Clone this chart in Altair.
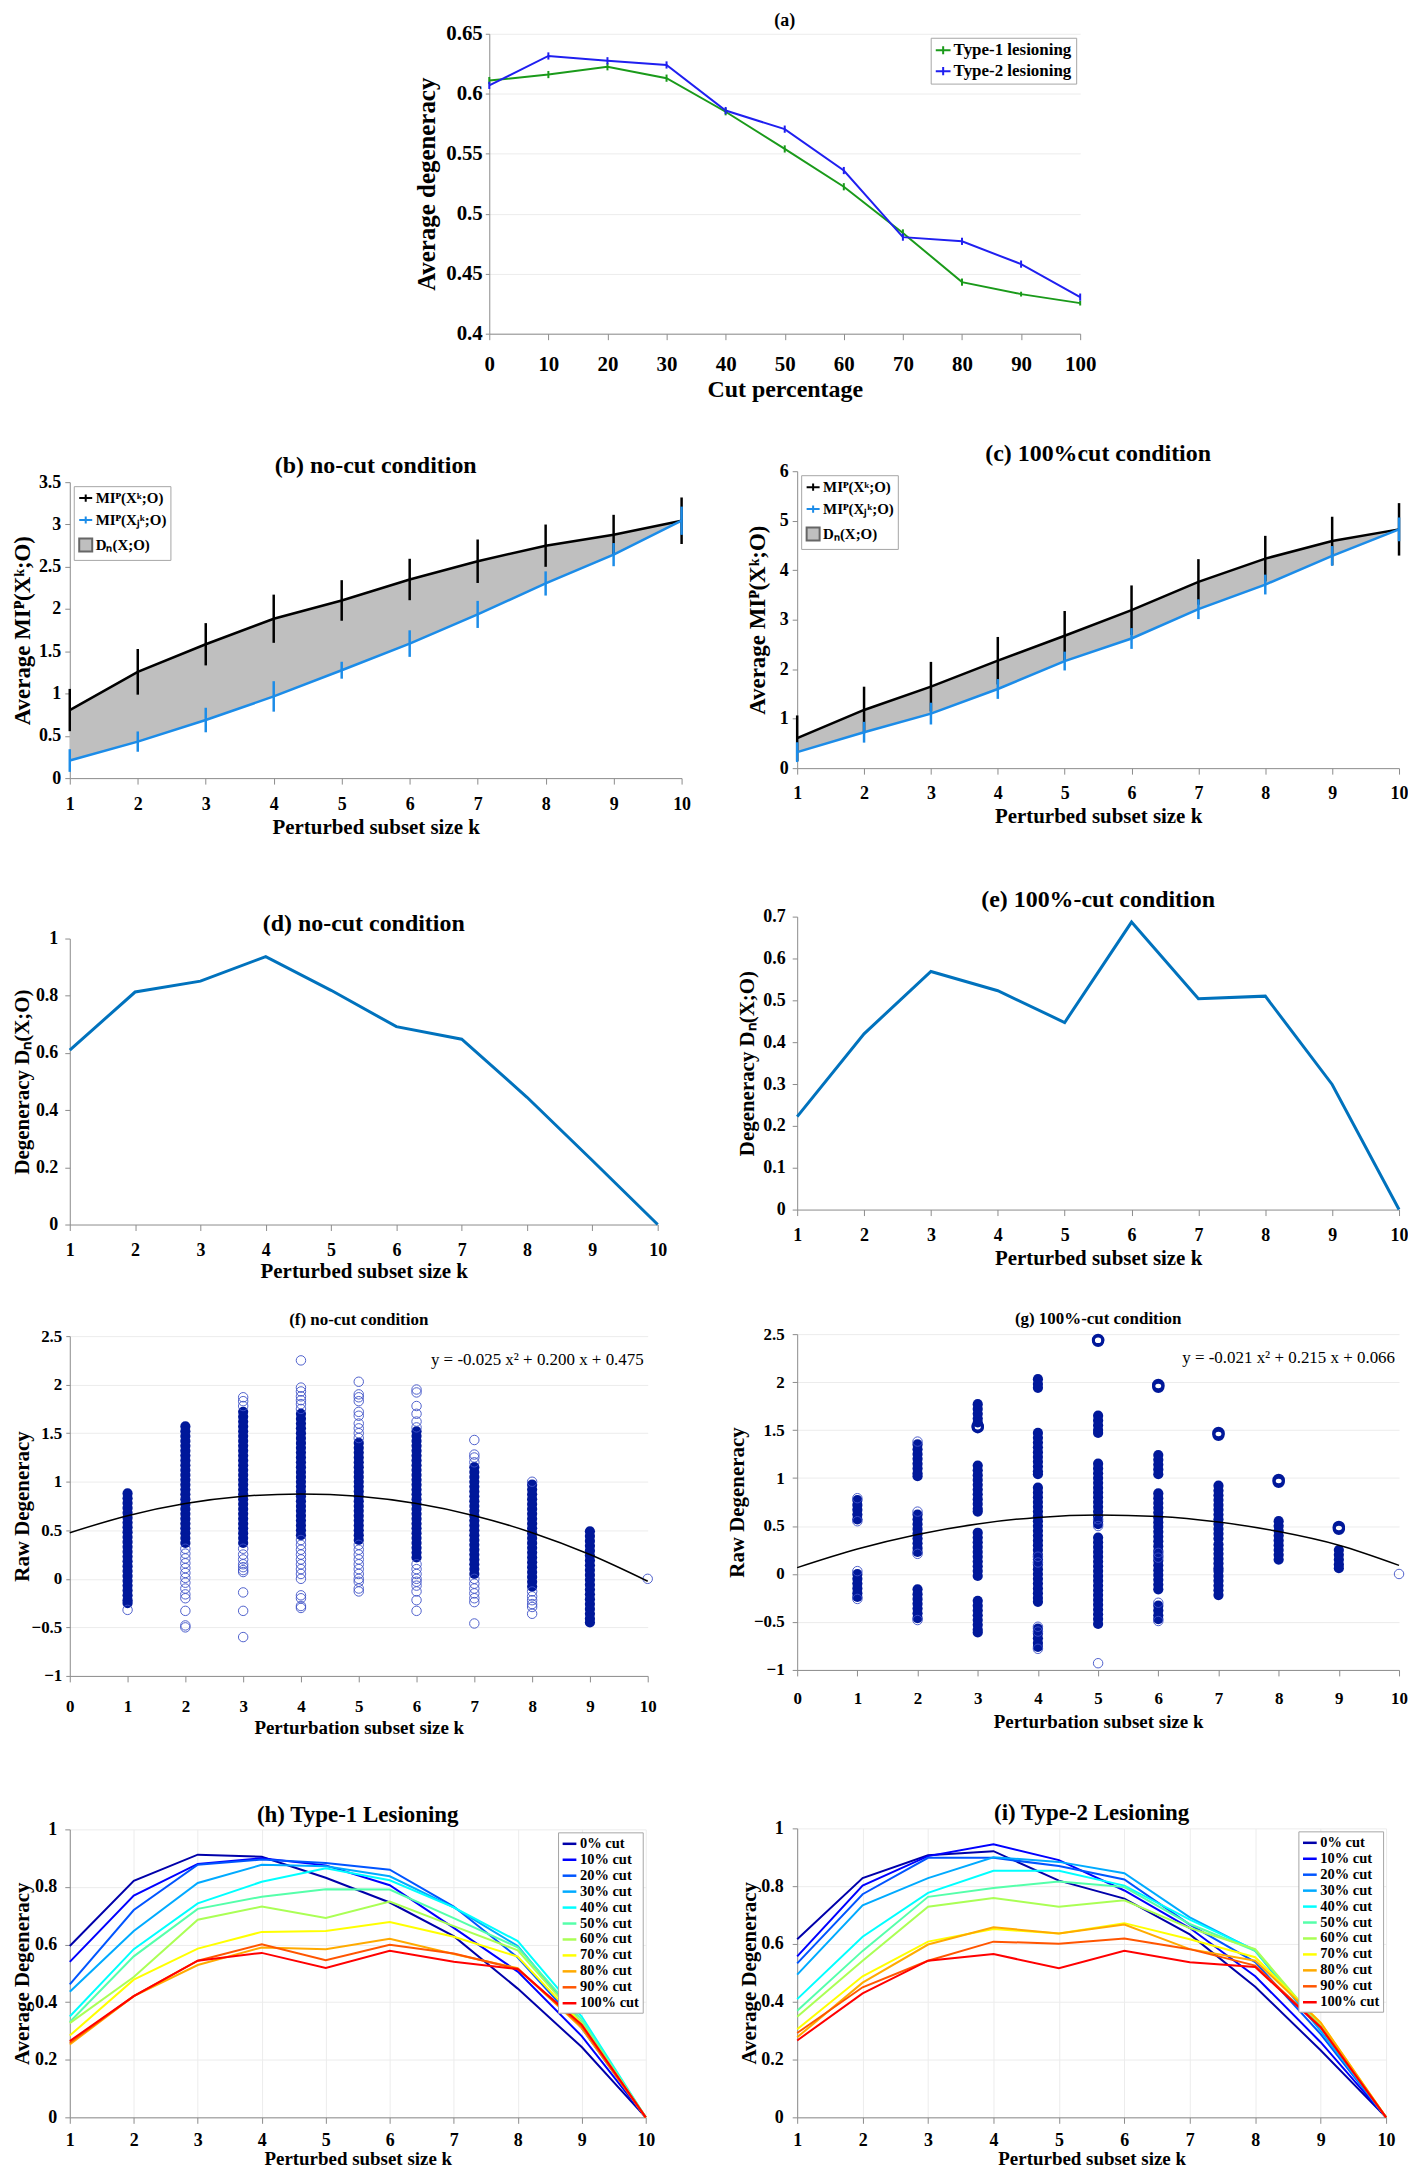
import altair as alt
import pandas as pd

FONT = "Liberation Serif"
GREEN = "#1a9a1a"
BLUE = "#1f1ff0"
LBLUE = "#1c8ce8"
MBLUE = "#0072bd"
DENSE = "#00189a"
OPEN = "#3f52c8"
GRAY_FILL = "#bfbfbf"
AXIS_GRAY = "#8c8c8c"
GRID = "#ececec"
ERRBAR = "M-1,0L1,0M0,-0.55L0,0.55"

# ---------------- (a) average degeneracy vs cut ----------------
A_CUT = [0, 10, 20, 30, 40, 50, 60, 70, 80, 90, 100]
A_TYPE1 = [0.611, 0.616, 0.6225, 0.613, 0.585, 0.554, 0.5225, 0.484, 0.443, 0.433, 0.4255]
A_TYPE1_ERR = [0.003, 0.003, 0.003, 0.003, 0.003, 0.003, 0.003, 0.003, 0.003, 0.002, 0.002]
A_TYPE2 = [0.607, 0.6315, 0.6275, 0.624, 0.586, 0.5705, 0.536, 0.4805, 0.477, 0.458, 0.4305]
A_TYPE2_ERR = [0.003, 0.003, 0.003, 0.003, 0.003, 0.003, 0.003, 0.003, 0.003, 0.003, 0.003]
A_SERIES = ["Type-1 lesioning", "Type-2 lesioning"]

# ---------------- (b)/(c) MI curves ----------------
K10 = [1, 2, 3, 4, 5, 6, 7, 8, 9, 10]
B_BLACK = [0.805, 1.257, 1.583, 1.885, 2.101, 2.349, 2.565, 2.749, 2.879, 3.044]
B_BLACK_ERR = [0.25, 0.27, 0.25, 0.285, 0.24, 0.245, 0.257, 0.25, 0.235, 0.275]
B_BLUE = [0.208, 0.432, 0.687, 0.966, 1.276, 1.591, 1.936, 2.302, 2.643, 3.044]
B_BLUE_ERR = [0.134, 0.12, 0.145, 0.18, 0.1, 0.157, 0.16, 0.143, 0.137, 0.167]
C_BLACK = [0.605, 1.176, 1.647, 2.171, 2.675, 3.192, 3.763, 4.234, 4.59, 4.825]
C_BLACK_ERR = [0.46, 0.47, 0.5, 0.48, 0.5, 0.5, 0.46, 0.46, 0.49, 0.53]
C_BLUE = [0.323, 0.726, 1.102, 1.6, 2.164, 2.62, 3.212, 3.71, 4.288, 4.825]
C_BLUE_ERR = [0.2, 0.21, 0.22, 0.2, 0.19, 0.21, 0.2, 0.2, 0.2, 0.24]
MI_LEGEND = ["MIᴾ(Xᵏ;O)", "MIᴾ(Xⱼᵏ;O)", "Dₙ(X;O)"]

# ---------------- (d)/(e) degeneracy ----------------
D_VAL = [0.610, 0.813, 0.851, 0.937, 0.819, 0.692, 0.648, 0.445, 0.224, 0.0]
E_VAL = [0.222, 0.420, 0.569, 0.523, 0.447, 0.687, 0.504, 0.510, 0.299, 0.0]

# ---------------- (f) raw degeneracy, no cut ----------------
K11 = [0, 1, 2, 3, 4, 5, 6, 7, 8, 9, 10]
F_FIT = [0.475, 0.65, 0.775, 0.85, 0.875, 0.85, 0.775, 0.65, 0.475, 0.25, -0.025]
F_EQ = "y = -0.025 x² + 0.200 x + 0.475"
F_K1_DENSE = [0.88, 0.83, 0.78, 0.73, 0.68, 0.63, 0.58, 0.53, 0.48, 0.43, 0.38, 0.33, 0.28, 0.23, 0.18, 0.13, 0.08, 0.03, -0.02, -0.07, -0.12, -0.17, -0.22, -0.25]
F_K1_OPEN = [-0.32]
F_K2_DENSE = [1.57, 1.52, 1.47, 1.42, 1.37, 1.32, 1.27, 1.22, 1.17, 1.12, 1.07, 1.02, 0.97, 0.92, 0.87, 0.82, 0.77, 0.72, 0.67, 0.62, 0.57, 0.52, 0.47, 0.42, 0.37]
F_K2_OPEN = [0.31, 0.26, 0.21, 0.16, 0.11, 0.06, 0.01, -0.04, -0.1, -0.16, -0.2, -0.33, -0.48, -0.5]
F_K3_DENSE = [1.72, 1.67, 1.62, 1.57, 1.52, 1.47, 1.42, 1.37, 1.32, 1.27, 1.22, 1.17, 1.12, 1.07, 1.02, 0.97, 0.92, 0.87, 0.82, 0.77, 0.72, 0.67, 0.62, 0.57, 0.52, 0.47, 0.42, 0.37]
F_K3_OPEN = [1.87, 1.83, 1.78, 0.31, 0.25, 0.2, 0.15, 0.12, 0.09, 0.07, -0.14, -0.33, -0.6]
F_K4_DENSE = [1.7, 1.65, 1.6, 1.55, 1.5, 1.45, 1.4, 1.35, 1.3, 1.25, 1.2, 1.15, 1.1, 1.05, 1.0, 0.95, 0.9, 0.85, 0.8, 0.75, 0.7, 0.65, 0.6, 0.55, 0.5, 0.45]
F_K4_OPEN = [2.25, 1.97, 1.93, 1.88, 1.84, 1.8, 1.75, 0.4, 0.35, 0.3, 0.25, 0.2, 0.15, 0.1, 0.05, 0.0, -0.17, -0.2, -0.28, -0.3]
F_K5_DENSE = [1.4, 1.35, 1.3, 1.25, 1.2, 1.15, 1.1, 1.05, 1.0, 0.95, 0.9, 0.85, 0.8, 0.75, 0.7, 0.65, 0.6, 0.55, 0.5, 0.45, 0.4]
F_K5_OPEN = [2.03, 1.9, 1.87, 1.83, 1.72, 1.68, 1.6, 1.55, 1.5, 1.45, 0.35, 0.3, 0.25, 0.2, 0.15, 0.1, 0.05, 0.0, -0.03, -0.1, -0.13]
F_K6_DENSE = [1.52, 1.47, 1.42, 1.37, 1.32, 1.27, 1.22, 1.17, 1.12, 1.07, 1.02, 0.97, 0.92, 0.87, 0.82, 0.77, 0.72, 0.67, 0.62, 0.57, 0.52, 0.47, 0.42, 0.37, 0.32, 0.27, 0.22]
F_K6_OPEN = [1.95, 1.92, 1.78, 1.7, 1.62, 1.56, 0.15, 0.1, 0.05, 0.0, -0.03, -0.07, -0.13, -0.22, -0.33]
F_K7_DENSE = [1.15, 1.1, 1.05, 1.0, 0.95, 0.9, 0.85, 0.8, 0.75, 0.7, 0.65, 0.6, 0.55, 0.5, 0.45, 0.4, 0.35, 0.3, 0.25, 0.2, 0.15, 0.1, 0.05]
F_K7_OPEN = [1.43, 1.28, 1.25, 1.2, 0.0, -0.05, -0.1, -0.15, -0.2, -0.24, -0.46]
F_K8_DENSE = [0.97, 0.92, 0.87, 0.82, 0.77, 0.72, 0.67, 0.62, 0.57, 0.52, 0.47, 0.42, 0.37, 0.32, 0.27, 0.22, 0.17, 0.12, 0.07, 0.02, -0.03, -0.08]
F_K8_OPEN = [1.0, -0.13, -0.18, -0.22, -0.26, -0.29, -0.36]
F_K9_DENSE = [0.49, 0.44, 0.39, 0.34, 0.29, 0.24, 0.19, 0.14, 0.09, 0.04, -0.01, -0.06, -0.11, -0.16, -0.21, -0.26, -0.31, -0.36, -0.41, -0.45]
F_K10_OPEN = [0.0]

# ---------------- (g) raw degeneracy, 100% cut ----------------
G_FIT = [0.066, 0.26, 0.412, 0.522, 0.59, 0.616, 0.6, 0.542, 0.442, 0.3, 0.09]
G_EQ = "y = -0.021 x² + 0.215 x + 0.066"
G_K1_DENSE = [0.77, 0.72, 0.67, 0.62, 0.57, 0.0, -0.05, -0.1, -0.15, -0.2, -0.24]
G_K1_OPEN = [0.79, 0.55, 0.03, -0.26]
G_K2_DENSE = [1.35, 1.3, 1.25, 1.2, 1.15, 1.1, 1.05, 1.02, 0.62, 0.57, 0.52, 0.47, 0.42, 0.37, 0.32, 0.27, 0.23, -0.16, -0.21, -0.26, -0.31, -0.36, -0.41, -0.46]
G_K2_OPEN = [1.38, 0.65, 0.21, -0.48]
G_K3_DENSE = [1.77, 1.72, 1.67, 1.62, 1.58, 1.13, 1.08, 1.03, 0.98, 0.93, 0.88, 0.83, 0.78, 0.73, 0.68, 0.65, 0.43, 0.38, 0.33, 0.28, 0.23, 0.18, 0.13, 0.08, 0.03, -0.02, -0.28, -0.33, -0.38, -0.43, -0.48, -0.53, -0.58, -0.61]
G_K3_RING = [1.53, 1.54]
G_K4_DENSE = [2.03, 1.98, 1.94, 1.47, 1.42, 1.37, 1.32, 1.27, 1.22, 1.17, 1.12, 1.07, 1.04, 0.9, 0.85, 0.8, 0.75, 0.7, 0.65, 0.6, 0.55, 0.5, 0.45, 0.4, 0.35, 0.3, 0.25, 0.2, 0.15, 0.1, 0.05, 0.0, -0.05, -0.1, -0.15, -0.2, -0.25, -0.29, -0.57, -0.62, -0.67, -0.72, -0.76]
G_K4_OPEN = [0.18, 0.12, -0.55, -0.6, -0.78]
G_K5_DENSE = [1.65, 1.6, 1.55, 1.5, 1.47, 1.15, 1.1, 1.05, 1.0, 0.95, 0.9, 0.85, 0.8, 0.75, 0.7, 0.65, 0.6, 0.55, 0.52, 0.38, 0.33, 0.28, 0.23, 0.18, 0.13, 0.08, 0.03, -0.02, -0.07, -0.12, -0.17, -0.22, -0.27, -0.32, -0.37, -0.42, -0.47, -0.52]
G_K5_OPEN = [-0.93, 0.57, 0.5]
G_K5_RING = [2.43, 2.44]
G_K6_DENSE = [1.24, 1.19, 1.14, 1.09, 1.04, 0.84, 0.79, 0.74, 0.69, 0.64, 0.59, 0.54, 0.49, 0.44, 0.39, 0.34, 0.29, 0.24, 0.19, 0.14, 0.09, 0.04, -0.01, -0.06, -0.11, -0.16, -0.33, -0.38, -0.43, -0.47]
G_K6_OPEN = [0.22, 0.17, -0.3, -0.49]
G_K6_RING = [1.95, 1.97]
G_K7_DENSE = [0.92, 0.87, 0.82, 0.77, 0.72, 0.67, 0.62, 0.57, 0.52, 0.47, 0.42, 0.37, 0.31, 0.26, 0.21, 0.16, 0.11, 0.06, 0.03, -0.02, -0.07, -0.12, -0.17, -0.22]
G_K7_RING = [1.45, 1.47]
G_K8_DENSE = [0.55, 0.5, 0.45, 0.4, 0.35, 0.3, 0.25, 0.2, 0.15]
G_K8_RING = [0.96, 0.98]
G_K9_DENSE = [0.25, 0.2, 0.15, 0.1, 0.06]
G_K9_RING = [0.47, 0.49]
G_K10_OPEN = [0.0]

# ---------------- (h)/(i) per-cut curves ----------------
CUT_LABELS = ["0% cut", "10% cut", "20% cut", "30% cut", "40% cut", "50% cut",
              "60% cut", "70% cut", "80% cut", "90% cut", "100% cut"]
JET11 = ["#0000aa", "#0000ff", "#0055ff", "#00aaff", "#00ffff", "#55ffaa",
         "#aaff55", "#ffff00", "#ffaa00", "#ff5500", "#ff0000"]
H_0 = [0.595, 0.821, 0.912, 0.905, 0.832, 0.746, 0.629, 0.447, 0.244, 0.0]
H_10 = [0.540, 0.770, 0.880, 0.900, 0.875, 0.806, 0.658, 0.506, 0.282, 0.0]
H_20 = [0.462, 0.720, 0.877, 0.895, 0.883, 0.860, 0.732, 0.555, 0.310, 0.0]
H_30 = [0.436, 0.647, 0.814, 0.877, 0.872, 0.837, 0.729, 0.595, 0.327, 0.0]
H_40 = [0.350, 0.584, 0.743, 0.818, 0.865, 0.823, 0.729, 0.612, 0.350, 0.0]
H_50 = [0.331, 0.559, 0.724, 0.766, 0.792, 0.791, 0.692, 0.590, 0.339, 0.0]
H_60 = [0.327, 0.487, 0.686, 0.732, 0.692, 0.749, 0.664, 0.580, 0.327, 0.0]
H_70 = [0.284, 0.478, 0.586, 0.644, 0.647, 0.678, 0.627, 0.558, 0.322, 0.0]
H_80 = [0.253, 0.421, 0.529, 0.590, 0.584, 0.620, 0.567, 0.518, 0.310, 0.0]
H_90 = [0.259, 0.421, 0.544, 0.601, 0.546, 0.599, 0.569, 0.515, 0.316, 0.0]
H_100 = [0.265, 0.421, 0.544, 0.571, 0.519, 0.578, 0.540, 0.515, 0.322, 0.0]
I_0 = [0.616, 0.828, 0.907, 0.921, 0.819, 0.757, 0.633, 0.452, 0.232, 0.0]
I_10 = [0.557, 0.802, 0.904, 0.945, 0.890, 0.785, 0.655, 0.488, 0.260, 0.0]
I_20 = [0.533, 0.772, 0.898, 0.898, 0.870, 0.823, 0.667, 0.537, 0.288, 0.0]
I_30 = [0.494, 0.734, 0.828, 0.900, 0.884, 0.845, 0.692, 0.576, 0.299, 0.0]
I_40 = [0.409, 0.625, 0.777, 0.853, 0.853, 0.802, 0.684, 0.579, 0.311, 0.0]
I_50 = [0.369, 0.576, 0.763, 0.794, 0.816, 0.797, 0.669, 0.576, 0.316, 0.0]
I_60 = [0.348, 0.542, 0.729, 0.759, 0.729, 0.751, 0.655, 0.582, 0.316, 0.0]
I_70 = [0.305, 0.488, 0.608, 0.652, 0.636, 0.672, 0.616, 0.554, 0.328, 0.0]
I_80 = [0.277, 0.466, 0.598, 0.658, 0.636, 0.667, 0.582, 0.542, 0.328, 0.0]
I_90 = [0.292, 0.450, 0.542, 0.608, 0.601, 0.619, 0.582, 0.525, 0.314, 0.0]
I_100 = [0.266, 0.429, 0.542, 0.565, 0.516, 0.576, 0.537, 0.520, 0.311, 0.0]

# ---------------- tick values ----------------
A_XT = [0, 10, 20, 30, 40, 50, 60, 70, 80, 90, 100]
A_YT = [0.4, 0.45, 0.5, 0.55, 0.6, 0.65]
B_YT = [0, 0.5, 1, 1.5, 2, 2.5, 3, 3.5]
C_YT = [0, 1, 2, 3, 4, 5, 6]
D_YT = [0, 0.2, 0.4, 0.6, 0.8, 1]
E_YT = [0, 0.1, 0.2, 0.3, 0.4, 0.5, 0.6, 0.7]
FG_YT = [-1, -0.5, 0, 0.5, 1, 1.5, 2, 2.5]

# ---------------- layout (page pixel targets) ----------------
PAD_LEFT = 4
X0 = 70      # plot left of every left-column panel
X1 = 800     # plot left of every right-column panel
GEO = {
    "a": dict(x=491, y=31, w=593, h=301, tfs=18, toff=-7, ytick=4, ylpad=3, ylfs=21, yE=48, ytp=2, ytfs=25,
              xtick=6, xlpad=14, xlfs=21, xE=41, xtp=3, xtfs=24),
    "b": dict(x=X0, y=481, w=614, h=297, tfs=24, toff=-5, ytick=5, ylpad=4, ylfs=18, yE=34, ytp=1, ytfs=23,
              xtick=6, xlpad=11, xlfs=18, xE=35, xtp=4, xtfs=21),
    "c": dict(x=X1, y=470, w=604, h=298, tfs=24, toff=-4, ytick=5, ylpad=4, ylfs=18, yE=20, ytp=8, ytfs=23,
              xtick=6, xlpad=10, xlfs=18, xE=34, xtp=4, xtfs=21),
    "d": dict(x=X0, y=939, w=590, h=287, tfs=24, toff=-6, ytick=5, ylpad=7, ylfs=18, yE=36, ytp=1, ytfs=21,
              xtick=6, xlpad=11, xlfs=18, xE=35, xtp=1, xtfs=21),
    "e": dict(x=X1, y=917, w=604, h=294, tfs=24, toff=-4, ytick=5, ylpad=7, ylfs=18, yE=36, ytp=4, ytfs=21,
              xtick=6, xlpad=11, xlfs=18, xE=35, xtp=3, xtfs=21),
    "f": dict(x=X0, y=1337, w=580, h=341, tfs=17, toff=-2, ytick=4, ylpad=4, ylfs=17, yE=35, ytp=2, ytfs=21,
              xtick=6, xlpad=17, xlfs=17, xE=40, xtp=3, xtfs=19),
    "g": dict(x=X1, y=1334, w=604, h=337, tfs=17, toff=-3, ytick=5, ylpad=8, ylfs=17, yE=42, ytp=8, ytfs=21,
              xtick=6, xlpad=15, xlfs=17, xE=38, xtp=5, xtfs=19),
    "h": dict(x=X0, y=1831, w=578, h=289, tfs=23, toff=-6.5, ytick=5, ylpad=8, ylfs=18, yE=36, ytp=1, ytfs=21,
              xtick=6, xlpad=8.5, xlfs=18, xE=32.5, xtp=0, xtfs=19),
    "i": dict(x=X1, y=1830, w=591, h=290, tfs=23, toff=-5.5, ytick=5, ylpad=9, ylfs=18, yE=37, ytp=1, ytfs=21,
              xtick=6, xlpad=8.5, xlfs=18, xE=32.5, xtp=0, xtfs=19),
}


def extents(p):
    L = p["yE"] + p["ytp"] + p["ytfs"]
    T = p["toff"] + p["tfs"] + p["ylfs"] / 2
    B = p["xE"] + p["xtp"] + p["xtfs"]
    return L, T, B


def xax(p, title, values, grid=False):
    return alt.Axis(title=title, values=values, format=".2~r", grid=grid, gridColor=GRID,
                    labelFont=FONT, labelFontSize=p["xlfs"], labelFontWeight="bold", labelColor="black",
                    titleFont=FONT, titleFontSize=p["xtfs"], titleFontWeight="bold", titleColor="black",
                    tickSize=p["xtick"], labelPadding=p["xlpad"], minExtent=p["xE"], maxExtent=p["xE"],
                    titlePadding=p["xtp"], domainColor=AXIS_GRAY, tickColor=AXIS_GRAY,
                    labelFlush=False, labelOverlap=False)


def yax(p, title, values, grid=False):
    return alt.Axis(title=title, values=values, format=".2~r", grid=grid, gridColor=GRID,
                    labelFont=FONT, labelFontSize=p["ylfs"], labelFontWeight="bold", labelColor="black",
                    titleFont=FONT, titleFontSize=p["ytfs"], titleFontWeight="bold", titleColor="black",
                    tickSize=p["ytick"], labelPadding=p["ylpad"], minExtent=p["yE"], maxExtent=p["yE"],
                    titlePadding=p["ytp"], domainColor=AXIS_GRAY, tickColor=AXIS_GRAY,
                    labelFlush=False, labelOverlap=False)


def ptitle(p, text):
    return alt.TitleParams(text=text, font=FONT, fontSize=p["tfs"], fontWeight="bold", color="black",
                           offset=p["toff"], anchor="middle", frame="group")


SP_DATA = pd.DataFrame({"z": [0]})


def spacer(w, h):
    return alt.Chart(SP_DATA).mark_point(opacity=0, size=0).encode(
        x=alt.value(0), y=alt.value(0)).properties(width=max(int(round(w)), 1), height=max(int(round(h)), 1))


CH = ["color", "fill", "stroke", "shape"]


def ind(c):
    return c.resolve_scale(**{k: "independent" for k in CH}).resolve_legend(**{k: "independent" for k in CH})


# ---------------- panel (a) ----------------
def panel_a():
    p = GEO["a"]
    rows = []
    for s, vals, errs in [(A_SERIES[0], A_TYPE1, A_TYPE1_ERR), (A_SERIES[1], A_TYPE2, A_TYPE2_ERR)]:
        for c, v, e in zip(A_CUT, vals, errs):
            rows.append({"cut": c, "v": v, "lo": v - e, "hi": v + e, "series": s})
    df = pd.DataFrame(rows)
    leg = alt.Legend(title=None, orient="top-right", offset=4, fillColor="white", strokeColor="#a6a6a6",
                     padding=4, labelFont=FONT, labelFontSize=17, labelFontWeight="bold", labelColor="black",
                     symbolType=ERRBAR, symbolSize=220, symbolStrokeWidth=2, rowPadding=3, labelOffset=2)
    color = alt.Color("series:N", scale=alt.Scale(domain=A_SERIES, range=[GREEN, BLUE]), legend=leg)
    X = alt.X("cut:Q", scale=alt.Scale(domain=[0, 100], nice=False), axis=xax(p, "Cut percentage", A_XT))
    ysc = alt.Scale(domain=[0.4, 0.65], nice=False, zero=False)
    yaxis = yax(p, "Average degeneracy", A_YT, grid=True)
    base = alt.Chart(df)
    err = base.mark_rule(strokeWidth=2).encode(x=X, y=alt.Y("lo:Q", scale=ysc, axis=yaxis), y2="hi:Q", color=color)
    line = base.mark_line(strokeWidth=2).encode(x=X, y=alt.Y("v:Q", scale=ysc, axis=yaxis), color=color)
    return alt.layer(line, err).properties(width=p["w"], height=p["h"], title=ptitle(p, "(a)"))


# ---------------- panels (b)/(c) ----------------
def panel_mi(key, title, black, black_err, blue, blue_err, ymax, yt):
    p = GEO[key]
    df = pd.DataFrame({
        "k": K10, "top": black, "bot": blue,
        "top_lo": [v - e for v, e in zip(black, black_err)], "top_hi": [v + e for v, e in zip(black, black_err)],
        "bot_lo": [v - e for v, e in zip(blue, blue_err)], "bot_hi": [v + e for v, e in zip(blue, blue_err)],
    })
    X = alt.X("k:Q", scale=alt.Scale(domain=[1, 10], nice=False, zero=False),
              axis=xax(p, "Perturbed subset size k", K10))
    ysc = alt.Scale(domain=[0, ymax], nice=False)
    ya = yax(p, "Average MIᴾ(Xᵏ;O)", yt)
    base = alt.Chart(df)
    area = base.mark_area(color=GRAY_FILL, opacity=1).encode(x=X, y=alt.Y("top:Q", scale=ysc, axis=ya), y2="bot:Q")
    berr = base.mark_rule(color="black", strokeWidth=2.5).encode(
        x=X, y=alt.Y("top_lo:Q", scale=ysc, axis=ya), y2="top_hi:Q")
    bline = base.mark_line(color="black", strokeWidth=2.5).encode(x=X, y=alt.Y("top:Q", scale=ysc, axis=ya))
    uerr = base.mark_rule(color=LBLUE, strokeWidth=2.5).encode(
        x=X, y=alt.Y("bot_lo:Q", scale=ysc, axis=ya), y2="bot_hi:Q")
    uline = base.mark_line(color=LBLUE, strokeWidth=2.5).encode(x=X, y=alt.Y("bot:Q", scale=ysc, axis=ya))
    leg_df = pd.DataFrame({"k": [None, None, None], "v": [None, None, None], "item": MI_LEGEND})
    leg = alt.Legend(title=None, orient="top-left", offset=4, fillColor="white", strokeColor="#a6a6a6",
                     padding=4, labelFont=FONT, labelFontSize=15, labelFontWeight="bold", labelColor="black",
                     symbolSize=170, symbolStrokeWidth=2, rowPadding=6, labelOffset=2)
    legend_layer = alt.Chart(leg_df).mark_point(filled=False, opacity=1, strokeWidth=2).encode(
        x=X, y=alt.Y("v:Q", scale=ysc, axis=ya),
        stroke=alt.Stroke("item:N", scale=alt.Scale(domain=MI_LEGEND, range=["black", LBLUE, "#666666"]), legend=leg),
        fill=alt.Fill("item:N", scale=alt.Scale(domain=MI_LEGEND, range=["transparent", "transparent", GRAY_FILL]),
                      legend=leg),
        shape=alt.Shape("item:N", scale=alt.Scale(domain=MI_LEGEND, range=[ERRBAR, ERRBAR, "square"]), legend=leg),
    )
    return alt.layer(area, berr, bline, uerr, uline, legend_layer).properties(
        width=p["w"], height=p["h"], title=ptitle(p, title))


# ---------------- panels (d)/(e) ----------------
def panel_deg(key, title, vals, ymax, yt):
    p = GEO[key]
    df = pd.DataFrame({"k": K10, "v": vals})
    return alt.Chart(df).mark_line(color=MBLUE, strokeWidth=3).encode(
        x=alt.X("k:Q", scale=alt.Scale(domain=[1, 10], nice=False, zero=False),
                axis=xax(p, "Perturbed subset size k", K10)),
        y=alt.Y("v:Q", scale=alt.Scale(domain=[0, ymax], nice=False), axis=yax(p, "Degeneracy Dₙ(X;O)", yt)),
    ).properties(width=p["w"], height=p["h"], title=ptitle(p, title))


# ---------------- panels (f)/(g) ----------------
def frame(cols):
    return pd.DataFrame([{"k": k, "v": v} for k, vals in cols for v in vals])


def panel_scatter(key, title, dense, opn, ring, fit, eq):
    p = GEO[key]
    X = alt.X("k:Q", scale=alt.Scale(domain=[0, 10], nice=False, zero=False),
              axis=xax(p, "Perturbation subset size k", K11))
    ysc = alt.Scale(domain=[-1, 2.5], nice=False, zero=False)
    ya = yax(p, "Raw Degeneracy", FG_YT, grid=True)
    Y = alt.Y("v:Q", scale=ysc, axis=ya)
    layers = [
        alt.Chart(frame(dense)).mark_circle(size=105, color=DENSE, opacity=1).encode(x=X, y=Y),
        alt.Chart(frame(opn)).mark_point(size=90, color=OPEN, strokeWidth=1, opacity=0.9).encode(x=X, y=Y),
    ]
    if ring:
        layers.append(alt.Chart(frame(ring)).mark_point(size=90, color=DENSE, strokeWidth=3, opacity=1)
                      .encode(x=X, y=Y))
    layers.append(alt.Chart(pd.DataFrame({"k": K11, "v": fit})).mark_line(
        color="black", strokeWidth=1.5, interpolate="monotone").encode(x=X, y=Y))
    layers.append(alt.Chart(pd.DataFrame({"t": [eq]})).mark_text(
        align="right", baseline="middle", font=FONT, fontSize=17, color="black").encode(
        text="t:N", x=alt.value(p["w"] - 4), y=alt.value(24)))
    return alt.layer(*layers).properties(width=p["w"], height=p["h"], title=ptitle(p, title))


# ---------------- panels (h)/(i) ----------------
def panel_cuts(key, title, series):
    p = GEO[key]
    rows = [{"k": k, "v": v, "cut": name} for name, vals in zip(CUT_LABELS, series) for k, v in zip(K10, vals)]
    df = pd.DataFrame(rows)
    leg = alt.Legend(title=None, orient="top-right", offset=3, fillColor="white", strokeColor="#a6a6a6",
                     padding=3, labelFont=FONT, labelFontSize=14.5, labelFontWeight="bold", labelColor="black",
                     symbolType="stroke", symbolSize=190, symbolStrokeWidth=2.5, rowPadding=1, labelOffset=2)
    return alt.Chart(df).mark_line(strokeWidth=2).encode(
        x=alt.X("k:Q", scale=alt.Scale(domain=[1, 10], nice=False, zero=False),
                axis=xax(p, "Perturbed subset size k", K10, grid=True)),
        y=alt.Y("v:Q", scale=alt.Scale(domain=[0, 1], nice=False), axis=yax(p, "Average Degeneracy", D_YT, grid=True)),
        color=alt.Color("cut:N", scale=alt.Scale(domain=CUT_LABELS, range=JET11), legend=leg),
    ).properties(width=p["w"], height=p["h"], title=ptitle(p, title))


pa = panel_a()
pb = panel_mi("b", "(b) no-cut condition", B_BLACK, B_BLACK_ERR, B_BLUE, B_BLUE_ERR, 3.5, B_YT)
pc = panel_mi("c", "(c) 100%cut condition", C_BLACK, C_BLACK_ERR, C_BLUE, C_BLUE_ERR, 6, C_YT)
pd_ = panel_deg("d", "(d) no-cut condition", D_VAL, 1, D_YT)
pe = panel_deg("e", "(e) 100%-cut condition", E_VAL, 0.7, E_YT)
pf = panel_scatter("f", "(f) no-cut condition",
                   [(1, F_K1_DENSE), (2, F_K2_DENSE), (3, F_K3_DENSE), (4, F_K4_DENSE), (5, F_K5_DENSE),
                    (6, F_K6_DENSE), (7, F_K7_DENSE), (8, F_K8_DENSE), (9, F_K9_DENSE)],
                   [(1, F_K1_OPEN), (2, F_K2_OPEN), (3, F_K3_OPEN), (4, F_K4_OPEN), (5, F_K5_OPEN),
                    (6, F_K6_OPEN), (7, F_K7_OPEN), (8, F_K8_OPEN), (10, F_K10_OPEN)],
                   [], F_FIT, F_EQ)
pg = panel_scatter("g", "(g) 100%-cut condition",
                   [(1, G_K1_DENSE), (2, G_K2_DENSE), (3, G_K3_DENSE), (4, G_K4_DENSE), (5, G_K5_DENSE),
                    (6, G_K6_DENSE), (7, G_K7_DENSE), (8, G_K8_DENSE), (9, G_K9_DENSE)],
                   [(1, G_K1_OPEN), (2, G_K2_OPEN), (4, G_K4_OPEN), (5, G_K5_OPEN), (6, G_K6_OPEN),
                    (10, G_K10_OPEN)],
                   [(3, G_K3_RING), (5, G_K5_RING), (6, G_K6_RING), (7, G_K7_RING), (8, G_K8_RING),
                    (9, G_K9_RING)],
                   G_FIT, G_EQ)
ph = panel_cuts("h", "(h) Type-1 Lesioning", [H_0, H_10, H_20, H_30, H_40, H_50, H_60, H_70, H_80, H_90, H_100])
pi = panel_cuts("i", "(i) Type-2 Lesioning", [I_0, I_10, I_20, I_30, I_40, I_50, I_60, I_70, I_80, I_90, I_100])

# ---------------- assembly ----------------
# vconcat aligns sub-view origins (plot left) in a column; hconcat aligns origins (plot top) in a row.
La, Ta, Ba = extents(GEO["a"])
row_a = ind(alt.hconcat(spacer(GEO["a"]["x"] - X0 - La, 1), pa, spacing=0))
col_top = GEO["a"]["y"] + GEO["a"]["h"] + Ba

maxL_right = max(extents(GEO[k])[0] for k in ["c", "e", "g", "i"])
LEFT_W = X1 - X0 - maxL_right


def column(keys, panels, first_width):
    items = []
    cur = col_top
    for n, (k, pnl) in enumerate(zip(keys, panels)):
        p = GEO[k]
        L, T, B = extents(p)
        gap = (p["y"] - T) - cur
        if n == 0:
            items.append(spacer(first_width, gap))
        elif gap >= 1:
            items.append(spacer(1, gap))
        items.append(pnl)
        cur = p["y"] + p["h"] + B
    return ind(alt.vconcat(*items, spacing=0))


left_col = column(["b", "d", "f", "h"], [pb, pd_, pf, ph], LEFT_W)
right_col = column(["c", "e", "g", "i"], [pc, pe, pg, pi], 1)
cols = ind(alt.hconcat(left_col, right_col, spacing=0))

chart = ind(alt.vconcat(row_a, cols, spacing=0)).properties(
    padding={"left": PAD_LEFT, "top": 0, "right": 0, "bottom": 0}, background="white")
chart = chart.configure(font=FONT).configure_view(stroke=None)

chart.save("out.html", embed_options={"renderer": "svg", "actions": False})
